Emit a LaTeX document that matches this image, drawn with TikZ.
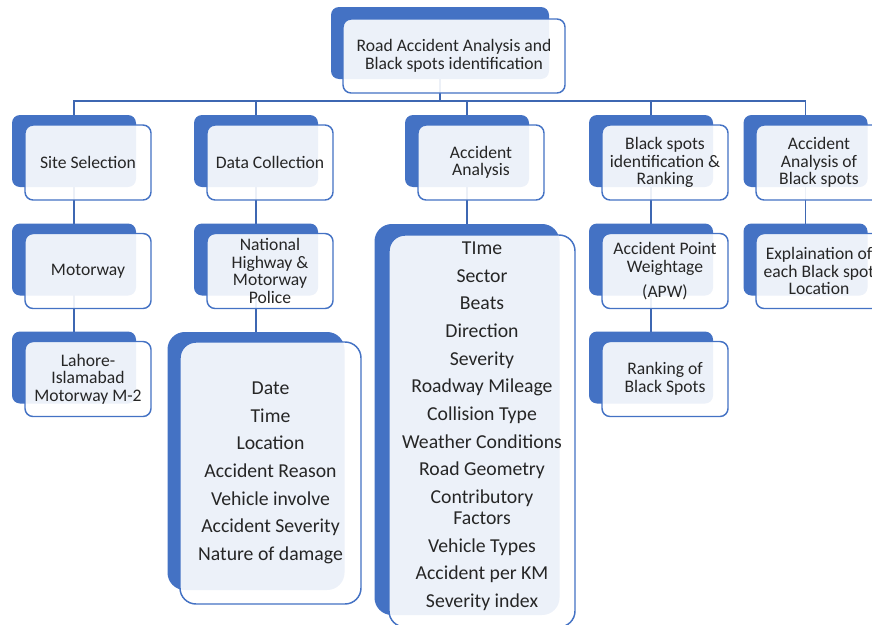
\documentclass[tikz,border=0pt]{standalone}
\usepackage{fontspec}
\setmainfont{Carlito}
\usetikzlibrary{backgrounds}
\definecolor{smartblue}{RGB}{68,114,196}
\definecolor{linkblue}{RGB}{62,103,178}

\begin{document}
\begin{tikzpicture}[x=0.75pt, y=-0.75pt,
    back/.style={fill=smartblue, rounded corners=6pt, minimum width=93pt, minimum height=54pt, inner sep=0pt},
    front/.style={draw=smartblue, line width=1.1pt, fill=white, fill opacity=0.9, text opacity=1,
      rounded corners=6pt, minimum width=94.5pt, minimum height=56.25pt, inner sep=2pt,
      align=center, text=black!85, font=\fontsize{13.2}{13.2}\selectfont},
    listback/.style={back, rounded corners=13pt},
    listfront/.style={front, rounded corners=12pt, font=\fontsize{14.8}{15.75}\selectfont},
    link/.style={draw=linkblue, line width=1.1pt}]

  \useasboundingbox (0,0) rectangle (872,625);

  % Root
  \node[back, minimum width=163.5pt] (root-b) at (440,43) {};
  \node[front, minimum width=166.5pt, minimum height=55.5pt] (root) at (454,56) {Road Accident Analysis and\\Black spots identification};

  % Site selection column
  \node[back] (site-b) at (74,151) {};
  \node[front] (site) at (88,162.5) {Site Selection};
  \node[back] (motor-b) at (74,259.5) {};
  \node[front] (motor) at (88,271) {Motorway};
  \node[back] (m2-b) at (74,367.5) {};
  \node[front] (m2) at (88,379) {Lahore-\\Islamabad\\Motorway M-2};

  % Data collection column
  \node[back] (data-b) at (256,151) {};
  \node[front] (data) at (270,162.5) {Data Collection};
  \node[back] (nhmp-b) at (256,259.5) {};
  \node[front] (nhmp) at (270,271) {National\\Highway \&\\Motorway\\Police};
  \node[listback, minimum width=132.75pt, minimum height=193.5pt] (dlist-b) at (256,461) {};
  \node[listfront, minimum width=135.75pt, minimum height=196.5pt] (dlist) at (270.5,473)
    {Date\\[5pt]Time\\[5pt]Location\\[5pt]Accident Reason\\[5pt]Vehicle involve\\[5pt]Accident Severity\\[5pt]Nature of damage};

  % Accident analysis column
  \node[back] (anal-b) at (467,151) {};
  \node[front] (anal) at (481,162.5) {Accident\\Analysis};
  \node[listback, minimum width=138.75pt, minimum height=293.25pt] (alist-b) at (467,419.5) {};
  \node[listfront, minimum width=139.5pt, minimum height=294pt] (alist) at (482,431)
    {TIme\\[5pt]Sector\\[5pt]Beats\\[5pt]Direction\\[5pt]Severity\\[5pt]Roadway Mileage\\[5pt]Collision Type\\[5pt]Weather Conditions\\[5pt]Road Geometry\\[5pt]Contributory\\Factors\\[5pt]Vehicle Types\\[5pt]Accident per KM\\[5pt]Severity index\\[-6pt]\mbox{}};

  % Black spots column
  \node[back] (bspot-b) at (651,151) {};
  \node[front] (bspot) at (665,162.5) {Black spots\\identification \&\\Ranking};
  \node[back] (apw-b) at (651,259.5) {};
  \node[front] (apw) at (665,271) {Accident Point\\Weightage\\[5.5pt](APW)};
  \node[back] (rank-b) at (651,367.5) {};
  \node[front] (rank) at (665,379) {Ranking of\\Black Spots};

  % Black spots analysis column
  \node[back] (abs-b) at (805.5,151) {};
  \node[front] (abs) at (819,162.5) {Accident\\Analysis of\\Black spots};
  \node[back] (expl-b) at (805.5,259.5) {};
  \node[front] (expl) at (819,271) {Explaination of\\each Black spot\\Location};

  % Connectors
  \begin{scope}[on background layer]
    \coordinate (bus) at (440,101);
    \foreach \c in {site,data,anal,bspot,abs}
      \draw[link] (root-b.center) |- (bus) -| (\c-b.center);
    \draw[link] (site-b.center) -- (motor-b.center) -- (m2-b.center);
    \draw[link] (data-b.center) -- (nhmp-b.center) -- (dlist-b.center);
    \draw[link] (anal-b.center) -- (alist-b.center);
    \draw[link] (bspot-b.center) -- (apw-b.center) -- (rank-b.center);
    \draw[link] (abs-b.center) -- (expl-b.center);
  \end{scope}
\end{tikzpicture}
\end{document}
